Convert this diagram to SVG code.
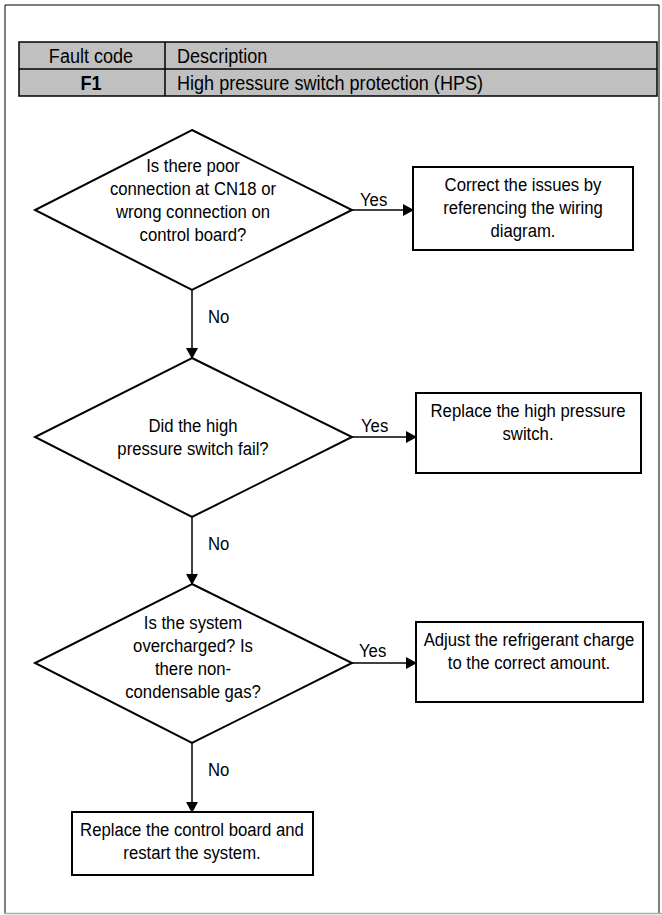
<svg xmlns="http://www.w3.org/2000/svg" width="662" height="915" viewBox="0 0 662 915">
<defs>
<marker id="ah" markerWidth="11" markerHeight="12" refX="10" refY="6" orient="auto" markerUnits="userSpaceOnUse">
<path d="M0,0 L11,6 L0,12 Z" fill="#000"/>
</marker>
<style>
.t{font-family:"Liberation Sans",Arial,sans-serif;font-size:19px;fill:#000;}
.c{text-anchor:middle;}
.s{fill:#fff;stroke:#000;stroke-width:2;}
.l{stroke:#000;stroke-width:1.5;fill:none;}
</style>
</defs>
<rect x="0" y="0" width="662" height="915" fill="#fff"/>
<path d="M5,913 V5 H659 V913" fill="none" stroke="#000" stroke-width="1"/>
<line x1="4" y1="913.5" x2="662" y2="913.5" stroke="#aaa" stroke-width="1.5"/>
<g id="table">
<rect x="19" y="42" width="638" height="54" fill="#c0c0c0" stroke="#000" stroke-width="1.5"/>
<line x1="19" y1="69" x2="657" y2="69" stroke="#000" stroke-width="1.5"/>
<line x1="165" y1="42" x2="165" y2="96" stroke="#000" stroke-width="1.5"/>
<text class="t" transform="translate(91,63) scale(0.86,1)" text-anchor="middle" style="font-size:21px">Fault code</text>
<text class="t" transform="translate(177,63) scale(0.86,1)" style="font-size:21px">Description</text>
<text class="t" transform="translate(91,90) scale(0.86,1)" text-anchor="middle" style="font-size:21px;font-weight:bold">F1</text>
<text class="t" transform="translate(177,90) scale(0.86,1)" style="font-size:21px">High pressure switch protection (HPS)</text>
</g>
<g id="d1">
<polygon class="s" points="192,130 352,210 192,290 35,210"/>
<text class="t c" transform="translate(193,172) scale(0.88,1)">Is there poor</text>
<text class="t c" transform="translate(193,195) scale(0.88,1)">connection at CN18 or</text>
<text class="t c" transform="translate(193,218) scale(0.88,1)">wrong connection on</text>
<text class="t c" transform="translate(193,241) scale(0.88,1)">control board?</text>
</g>
<g id="b1">
<rect class="s" x="413" y="167" width="220" height="83"/>
<text class="t c" transform="translate(523,191) scale(0.88,1)">Correct the issues by</text>
<text class="t c" transform="translate(523,214) scale(0.88,1)">referencing the wiring</text>
<text class="t c" transform="translate(523,237) scale(0.88,1)">diagram.</text>
</g>
<g id="d2">
<polygon class="s" points="192,358 352,437 192,517 35,437"/>
<text class="t c" transform="translate(193,432) scale(0.88,1)">Did the high</text>
<text class="t c" transform="translate(193,455) scale(0.88,1)">pressure switch fail?</text>
</g>
<g id="b2">
<rect class="s" x="416" y="393" width="225" height="80"/>
<text class="t c" transform="translate(528,417) scale(0.88,1)">Replace the high pressure</text>
<text class="t c" transform="translate(528,440) scale(0.88,1)">switch.</text>
</g>
<g id="d3">
<polygon class="s" points="192,584 352,663 192,743 35,663"/>
<text class="t c" transform="translate(193,629) scale(0.88,1)">Is the system</text>
<text class="t c" transform="translate(193,652) scale(0.88,1)">overcharged? Is</text>
<text class="t c" transform="translate(193,675) scale(0.88,1)">there non-</text>
<text class="t c" transform="translate(193,698) scale(0.88,1)">condensable gas?</text>
</g>
<g id="b3">
<rect class="s" x="416" y="622" width="227" height="80"/>
<text class="t c" transform="translate(529,646) scale(0.88,1)">Adjust the refrigerant charge</text>
<text class="t c" transform="translate(529,669) scale(0.88,1)">to the correct amount.</text>
</g>
<g id="b4">
<rect class="s" x="72" y="812" width="241" height="63"/>
<text class="t c" transform="translate(192,836) scale(0.88,1)">Replace the control board and</text>
<text class="t c" transform="translate(192,859) scale(0.88,1)">restart the system.</text>
</g>
<g id="connectors">
<line class="l" x1="352" y1="210" x2="413" y2="210" marker-end="url(#ah)"/>
<line class="l" x1="192" y1="290" x2="192" y2="358" marker-end="url(#ah)"/>
<line class="l" x1="352" y1="437" x2="416" y2="437" marker-end="url(#ah)"/>
<line class="l" x1="192" y1="517" x2="192" y2="584" marker-end="url(#ah)"/>
<line class="l" x1="352" y1="663" x2="416" y2="663" marker-end="url(#ah)"/>
<line class="l" x1="192" y1="743" x2="192" y2="812" marker-end="url(#ah)"/>
<text class="t" transform="translate(360,206) scale(0.88,1)">Yes</text>
<text class="t" transform="translate(361,432) scale(0.88,1)">Yes</text>
<text class="t" transform="translate(359,657) scale(0.88,1)">Yes</text>
<text class="t" transform="translate(208,323) scale(0.88,1)">No</text>
<text class="t" transform="translate(208,550) scale(0.88,1)">No</text>
<text class="t" transform="translate(208,776) scale(0.88,1)">No</text>
</g>
</svg>
